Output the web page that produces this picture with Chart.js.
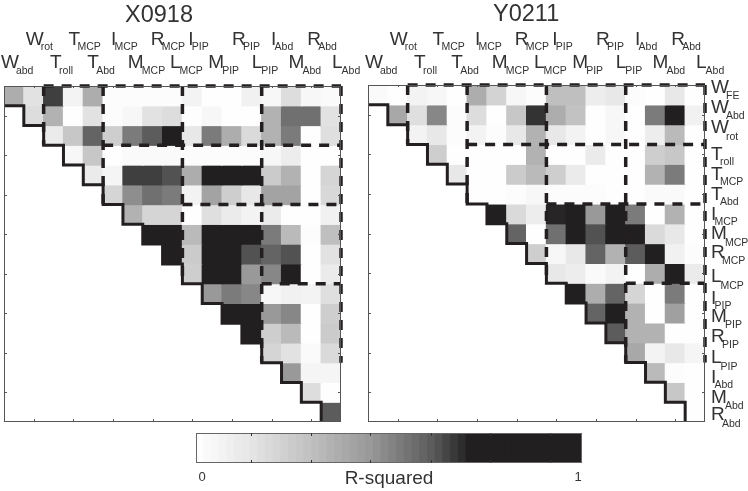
<!DOCTYPE html>
<html lang="en">
<head>
  <meta charset="UTF-8" />
  <title>R-squared matrices</title>
  <style>
    body { margin: 0; background: #fff; }
    canvas { position: absolute; display: block; }
    #leftCanvas { left: 0; top: 0; }
    #rightCanvas { left: 362px; top: 0; }
    #barCanvas { left: 190px; top: 432px; }
  </style>
  <script src="https://cdn.jsdelivr.net/npm/chart.js"></script>
</head>
<body>
  <canvas id="leftCanvas" width="362" height="432"></canvas>
  <canvas id="rightCanvas" width="386" height="432"></canvas>
  <canvas id="barCanvas" width="400" height="59"></canvas>
  <script>
    // joint labels, split in letter + subscript
    const colLetters = ['W','W','T','T','T','I','M','R','L','I','M','R','L','I','M','R','L'];
    const colSubs = ['abd','rot','roll','MCP','Abd','MCP','MCP','MCP','MCP','PIP','PIP','PIP','PIP','Abd','Abd','Abd','Abd'];
    const rowLetters = ['W','W','W','T','T','T','I','M','R','L','I','M','R','L','I','M','R'];
    const rowSubs = ['FE','Abd','rot','roll','MCP','Abd','MCP','MCP','MCP','MCP','PIP','PIP','PIP','PIP','Abd','Abd','Abd'];

    // R-squared, upper triangle: row r starts at column r
    const x0918Rows = [
      [.36,.15,.65,.06,.36,.01,.01,.01,.01,.06,0,0,.07,.04,.17,.04,.02],
      [.17,.34,0,.15,.01,.04,.15,.17,0,.04,0,0,.34,.55,.55,.15],
      [.10,.26,.58,.23,.52,.60,.75,.12,.52,.36,.18,.34,.52,0,.16],
      [.04,.26,0,.02,.02,.02,.01,.01,.01,.01,.04,.09,0,0],
      [.10,.05,.65,.65,.62,.36,.70,.75,.75,.24,.34,0,.20],
      [.20,.47,.55,.52,.06,.40,.23,.12,.40,.40,0,.19],
      [.34,.20,.20,0,.16,.10,.06,.10,0,0,.07],
      [.75,.75,.31,.75,.75,.70,.52,.31,.01,.29],
      [.75,.24,.75,.75,.62,.58,.62,0,.15],
      [.23,.75,.75,.44,.49,.75,0,.10],
      [.44,.52,.49,.04,.07,.06,.16],
      [.75,.70,.44,.49,0,.23],
      [.75,.23,.31,0,.24],
      [.20,.15,.02,.18],
      [.44,.05,.05],
      [.17,0],
      [.60]
    ];
    const y0211Rows = [
      [.02,0,.06,.04,0,.36,.21,.04,.01,.29,.29,.09,.12,.01,0,.12,0],
      [.38,.16,.49,.01,.17,0,.26,.67,.36,.28,0,.04,0,.52,.75,.07],
      [.06,.12,.01,.06,.01,.12,.34,.12,.06,0,.04,0,.09,.31,0],
      [.23,0,0,0,0,.34,0,0,.10,0,0,.23,.26,0],
      [.12,0,0,.24,.31,.23,.10,0,0,0,.34,.52,0],
      [0,0,.01,.04,.01,.01,.01,0,0,.02,.02,0],
      [.75,.18,.09,.69,.75,.44,.75,.52,0,.34,0],
      [.58,0,.55,.75,.62,.75,.75,.18,.12,0],
      [.23,.04,.12,.58,.34,.60,.75,.07,.01],
      [.12,.09,.02,.06,0,.36,.75,.10],
      [.75,.36,.58,.20,0,.52,0],
      [.58,.75,.34,0,.41,0],
      [.60,.34,.34,0,0],
      [.38,.06,.12,.05],
      [.31,.01,0],
      [.26,0],
      [0]
    ];

    // dashed muscle group blocks (row edge paired with column edge)
    const rowEdges = [0, 3, 6, 10, 14];
    const colEdges = [2, 5, 9, 13, 17];

    // colour bar
    const barLevels = ['0','.02','.04','.06','.08','.1','.12','.14','.16','.18','.2','.22','.24','.26','.28','.3','.32','.34','.36','.38','.4','.42','.44','.46','.48','.5','.52','.54','.56','.58','.6','.62','.64','.66','.68','.7','.72','.74','.76','.78','.8','.82','.84','.86','.88','.9','.92','.94','.96','.98'];
    const barTicks = [.1417,.297,.451,.608,.762,.917];

    // colour map: R-squared -> grey
    const mapV = [0, .14, .295, .45, .606, .70, 1];
    const mapG = [254, 228, 190, 150, 90, 33, 33];
    function grey(v) {
      let i = 0;
      while (i < mapV.length - 2 && v > mapV[i + 1]) i++;
      const t = (v - mapV[i]) / (mapV[i + 1] - mapV[i]);
      const g = Math.round(mapG[i] + t * (mapG[i + 1] - mapG[i]));
      return `rgb(${g},${g - (g < 40 ? 2 : 0)},${g - (g < 40 ? 1 : 0)})`;
    }

    const FONT = '"Liberation Sans", Arial, sans-serif';
    const INK = '#231f20';
    const TEXT = '#333';

    // hand placement of the column labels relative to the column centre
    const colNudge = [-13,-8,-3.5,-5,-6,-2,-5,-2,-2.5,-4,-4,0,0,-0.5,-3,-4,1];
    // baseline of the row labels relative to the row centre
    const rowNudge = [-2,-2,-1.5,6,6,6,6,5.5,4,8.7,11,9,9,10.7,10.7,10.7,8.4];
    const subGap = { W: 15, T: 9, M: 14, L: 9.5, I: 3.5, R: 11 };

    function drawLabel(ctx, letter, sub, x, base, drop) {
      ctx.textAlign = 'left';
      ctx.textBaseline = 'alphabetic';
      ctx.fillStyle = TEXT;
      ctx.font = '19px ' + FONT;
      ctx.fillText(letter, x, base);
      ctx.font = '10.5px ' + FONT;
      ctx.fillText(sub, x + subGap[letter], base + drop);
    }

    const panelPlugin = {
      id: 'panelPlugin',
      afterDraw(chart, args, opts) {
        const { ctx, chartArea: a, scales } = chart;
        ctx.save();
        // frame + inward ticks on every second cell
        ctx.strokeStyle = '#555';
        ctx.lineWidth = 1;
        ctx.strokeRect(a.left + .5, a.top + .5, a.right - a.left - 1, a.bottom - a.top - 1);
        ctx.beginPath();
        for (let i = 1; i < 17; i += 2) {
          const px = Math.round(scales.x.getPixelForValue(i)) + .5;
          const py = Math.round(scales.y.getPixelForValue(i + .5)) + .5;
          ctx.moveTo(px, a.bottom); ctx.lineTo(px, a.bottom - 3);
          ctx.moveTo(px, a.top); ctx.lineTo(px, a.top + 2);
          ctx.moveTo(a.left, py); ctx.lineTo(a.left + 3, py);
          ctx.moveTo(a.right, py); ctx.lineTo(a.right - 3, py);
        }
        ctx.stroke();

        // title
        ctx.fillStyle = TEXT;
        ctx.textAlign = 'left';
        ctx.textBaseline = 'alphabetic';
        ctx.font = '23.5px ' + FONT;
        ctx.fillText(opts.title, opts.titleX, opts.titleY);

        // staggered column labels
        colLetters.forEach((letter, i) => {
          const x = scales.x.getPixelForValue(i) + colNudge[i];
          drawLabel(ctx, letter, colSubs[i], x, i % 2 ? 45 : 68, i % 2 ? 5 : 6);
        });
        // row labels only on the right panel
        if (opts.rowLabels) {
          rowLetters.forEach((letter, r) => {
            const y = scales.y.getPixelForValue(r + .5) + rowNudge[r];
            drawLabel(ctx, letter, rowSubs[r], a.right + 6, y, letter === 'I' || letter === 'T' ? 5 : 6.5);
          });
        }
        ctx.restore();
      }
    };

    function lineSet(points, dashed) {
      return {
        type: 'line',
        xAxisID: 'xv',
        yAxisID: 'y',
        data: points,
        order: -1,
        borderColor: INK,
        borderWidth: dashed ? 3.5 : 3,
        borderDash: dashed ? [10, 8] : [],
        borderJoinStyle: 'miter',
        pointRadius: 0,
        tension: 0,
        fill: false,
        clip: false
      };
    }

    function makePanel(id, rows, title, titleX, titleY, padding, rowLabels) {
      const datasets = [];
      rows.forEach((vals, r) => {
        const data = colSubs.map((_, c) => (c >= r ? [r, r + 1] : null));
        const colors = colSubs.map((_, c) => (c >= r ? grey(vals[c - r]) : 'transparent'));
        datasets.push({
          data,
          backgroundColor: colors,
          borderWidth: 0,
          inflateAmount: 0.6, // hides the hairline seams between cells
          grouped: false,
          categoryPercentage: 1,
          barPercentage: 1
        });
      });

      // thick staircase under the diagonal
      const stairs = [];
      for (let k = 0; k < 16; k++) {
        stairs.push({ x: k, y: k + 1 }, { x: k + 1, y: k + 1 });
      }
      stairs.push({ x: 16, y: 17 });
      datasets.push(lineSet(stairs, false));

      // dashed blocks
      rowEdges.forEach((edge, i) => {
        datasets.push(lineSet([{ x: colEdges[i], y: edge }, { x: 17, y: edge }], true));
      });
      colEdges.forEach((edge, i) => {
        const end = i === 0 ? 3 : rowEdges[Math.min(i + 1, rowEdges.length - 1)];
        datasets.push(lineSet([{ x: edge, y: 0 }, { x: edge, y: i === 4 ? 14 : end }], true));
      });

      return new Chart(document.getElementById(id), {
        type: 'bar',
        data: { labels: colSubs.map((s, i) => colLetters[i] + s), datasets },
        plugins: [panelPlugin],
        options: {
          responsive: false,
          animation: false,
          events: [],
          layout: { padding },
          plugins: {
            legend: { display: false },
            tooltip: { enabled: false },
            panelPlugin: { title, titleX, titleY, rowLabels }
          },
          scales: {
            x: { type: 'category', display: false },
            xv: { type: 'linear', min: 0, max: 17, display: false, offset: false },
            y: { type: 'linear', min: 0, max: 17, reverse: true, display: false }
          }
        }
      });
    }

    makePanel('leftCanvas', x0918Rows, 'X0918', 125, 22, { left: 4, right: 21, top: 86, bottom: 10 }, false);
    makePanel('rightCanvas', y0211Rows, 'Y0211', 131, 21, { left: 6, right: 43, top: 85, bottom: 10 }, true);

    // colour bar, one bar per level; ticks and text sit on a linear 0-1 axis
    const barPlugin = {
      id: 'barPlugin',
      afterDraw(chart) {
        const { ctx, chartArea: a, scales } = chart;
        ctx.save();
        ctx.strokeStyle = '#666';
        ctx.lineWidth = 1;
        ctx.strokeRect(a.left + .5, a.top + .5, a.right - a.left - 1, a.bottom - a.top - 1);
        ctx.strokeStyle = '#333';
        ctx.beginPath();
        barTicks.forEach(t => {
          const px = Math.round(scales.xv.getPixelForValue(t)) + .5;
          ctx.moveTo(px, a.top); ctx.lineTo(px, a.top + 3);
          ctx.moveTo(px, a.bottom); ctx.lineTo(px, a.bottom - 3);
        });
        ctx.stroke();
        ctx.fillStyle = TEXT;
        ctx.textAlign = 'center';
        ctx.font = '13px ' + FONT;
        ctx.fillText('0', scales.xv.getPixelForValue(.016), 49);
        ctx.fillText('1', scales.xv.getPixelForValue(.99), 49);
        ctx.font = '19px ' + FONT;
        ctx.fillText('R-squared', scales.xv.getPixelForValue(.5), 52);
        ctx.restore();
      }
    };

    new Chart(document.getElementById('barCanvas'), {
      type: 'bar',
      data: {
        labels: barLevels,
        datasets: [{
          data: barLevels.map(() => [0, 1]),
          backgroundColor: barLevels.map(v => grey(Number(v))),
          borderWidth: 0,
          inflateAmount: 0.6,
          categoryPercentage: 1,
          barPercentage: 1
        }]
      },
      plugins: [barPlugin],
      options: {
        responsive: false,
        animation: false,
        events: [],
        layout: { padding: { left: 6, right: 8, top: 1, bottom: 28 } },
        plugins: { legend: { display: false }, tooltip: { enabled: false } },
        scales: {
          x: { type: 'category', display: false },
          xv: { type: 'linear', min: 0, max: 1, display: false, offset: false },
          y: { min: 0, max: 1, display: false }
        }
      }
    });
  </script>
</body>
</html>
